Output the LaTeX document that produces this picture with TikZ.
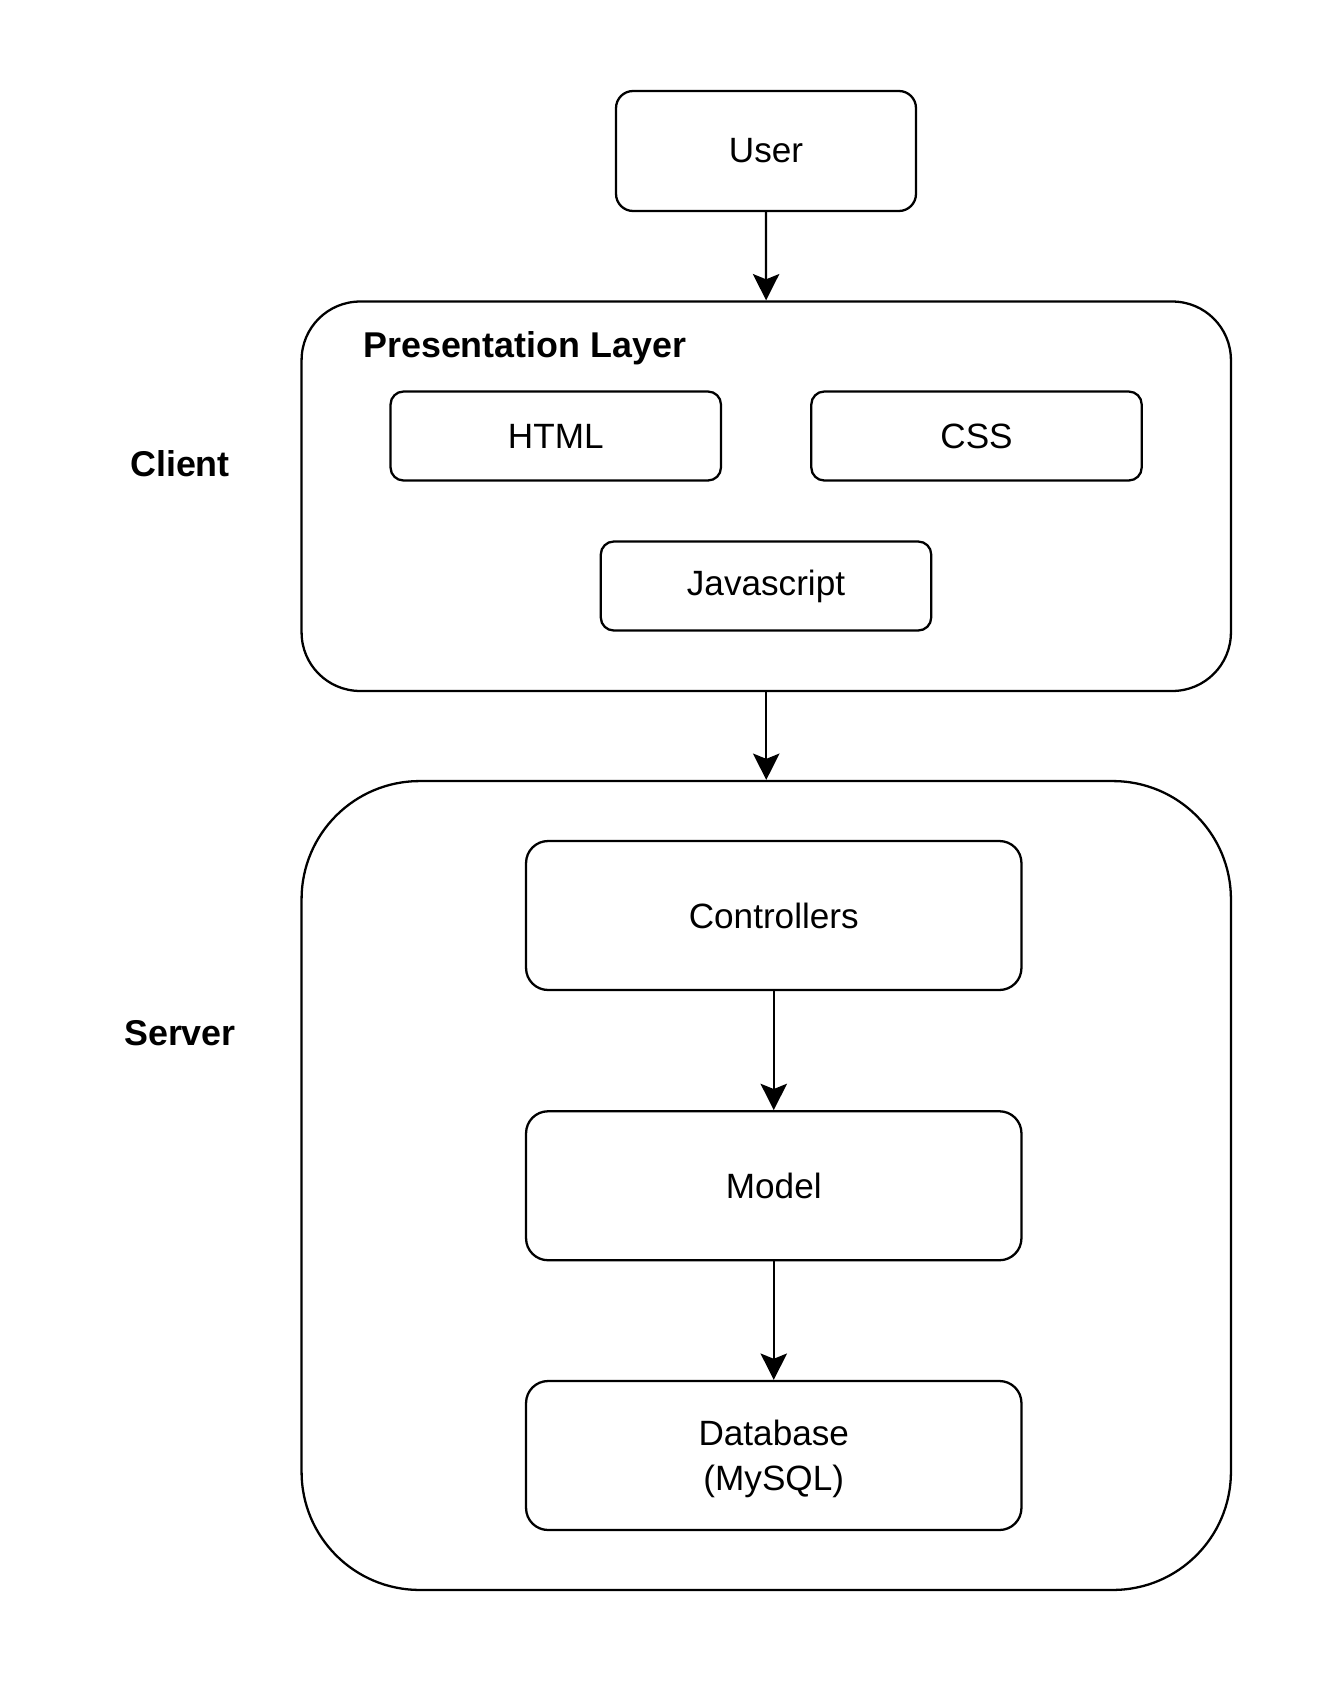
\documentclass[tikz,border=0pt]{standalone}
\usepackage{fontspec}
\setmainfont{Liberation Sans}
\usetikzlibrary{arrows.meta}
\tikzset{
  box/.style={draw, line width=1.3pt, inner sep=0pt, align=center,
    font=\fontsize{20}{25.5}\selectfont},
  smallbox/.style={box, minimum width=6.61cm, minimum height=1.78cm, rounded corners=0.26cm},
  bigbox/.style={box, minimum width=9.91cm, minimum height=2.98cm, rounded corners=0.44cm},
  layer/.style={draw, line width=1.3pt, minimum width=18.59cm},
  sidelabel/.style={font=\fontsize{20.4}{24}\selectfont\bfseries, inner sep=0pt},
  arr/.style={line width=1.3pt, -{Stealth[length=15pt, width=15pt, inset=3pt]}}
}

\begin{document}
\begin{tikzpicture}[x=0.02cm, y=-0.02cm]
\useasboundingbox (0,0) rectangle (1323,1683);
% user on top
\node[box, minimum width=6cm, minimum height=2.4cm, rounded corners=0.34cm] (user) at (766,151) {User};
% client side
\node[layer, minimum height=7.79cm, rounded corners=1.17cm] (pres) at (766.25,496.25) {};
\node[sidelabel, anchor=west] (preslabel) at (363,348) {Presentation Layer};
\node[smallbox] (html) at (555.75,436) {HTML};
\node[smallbox] (css) at (976.5,436) {CSS};
\node[smallbox] (js) at (766,586) {Javascript};
\node[sidelabel] (client) at (180,464) {Client};
% server side
\node[layer, minimum height=16.18cm, rounded corners=2.36cm] (server) at (766.25,1185.5) {};
\node[bigbox] (ctrl) at (773.75,915.5) {Controllers};
\node[bigbox] (model) at (773.75,1185.75) {Model};
\node[bigbox, text depth=0pt] (db) at (773.75,1455.5) {Database\\(MySQL)};
\node[sidelabel] (serverlabel) at (180,1033) {Server};
% arrows
\draw[arr] (user) -- (pres);
\draw[arr] (pres) -- (server);
\draw[arr] (ctrl) -- (model);
\draw[arr] (model) -- (db);
\end{tikzpicture}
\end{document}
